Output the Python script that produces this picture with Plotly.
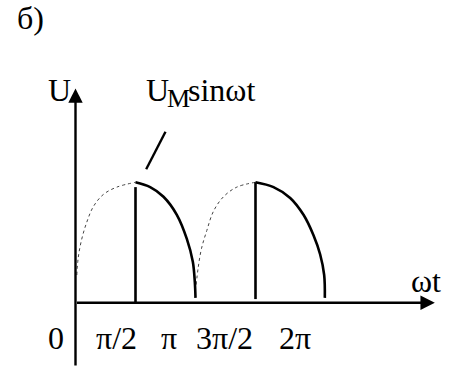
import plotly.graph_objects as go

# omega*t in degrees, U in units of U_M
arc1_dot_x = [2, 4, 9, 17, 27, 42, 62, 90]
arc1_dot_u = [0.23, 0.37, 0.52, 0.67, 0.80, 0.90, 0.96, 1.0]
arc1_x = [90, 112, 132, 152, 167, 176, 179, 180]
arc1_u = [1.0, 0.96, 0.88, 0.73, 0.53, 0.34, 0.17, 0.04]

arc2_dot_x = [181, 184, 189, 197, 207, 222, 242, 270]
arc2_dot_u = [0.15, 0.29, 0.45, 0.60, 0.76, 0.88, 0.96, 1.0]
arc2_x = [270, 297, 322, 342, 357, 367, 373, 374]
arc2_u = [1.0, 0.96, 0.87, 0.73, 0.56, 0.40, 0.23, 0.04]

# vertical edges (firing moments)
edge_x = [90, 270]
edge_u_low = [0.0, 0.03]
edge_u_high = [0.96, 1.0]

tick_labels = ["0", "π/2", "π", "3π/2", "2π"]
tick_label_x = [-29, 61.5, 140, 224, 329]

SERIF = "'Liberation Serif', 'Times New Roman', serif"
FONT = dict(family=SERIF, size=32, color="black")
FONT_SUB = dict(family=SERIF, size=26, color="black")

fig = go.Figure()

for xs, us in [(arc1_dot_x, arc1_dot_u), (arc2_dot_x, arc2_dot_u)]:
    fig.add_trace(go.Scatter(x=xs, y=us, mode="lines",
                             line=dict(color="#444444", width=1, dash="dot", shape="spline")))
for xs, us in [(arc1_x, arc1_u), (arc2_x, arc2_u)]:
    fig.add_trace(go.Scatter(x=xs, y=us, mode="lines",
                             line=dict(color="black", width=2.6, shape="spline")))
for xv, lo, hi in zip(edge_x, edge_u_low, edge_u_high):
    fig.add_trace(go.Scatter(x=[xv, xv], y=[lo, hi], mode="lines",
                             line=dict(color="black", width=2.6)))

# axes with arrows
fig.add_annotation(x=539, y=0, ax=0, ay=0, xref="x", yref="y", axref="x", ayref="y",
                   showarrow=True, arrowhead=2, arrowsize=1.2, arrowwidth=2.4,
                   arrowcolor="black", text="")
fig.add_annotation(x=0, y=1.78, ax=0, ay=-0.535, xref="x", yref="y", axref="x", ayref="y",
                   showarrow=True, arrowhead=2, arrowsize=1.2, arrowwidth=2.4,
                   arrowcolor="black", text="")

# leader line to the formula
fig.add_shape(type="line", x0=135, y0=1.42, x1=106, y1=1.108,
              line=dict(color="black", width=2.4))

for lab, xv in zip(tick_labels, tick_label_x):
    fig.add_annotation(x=xv, y=-0.293, text=lab, showarrow=False, font=FONT)

fig.add_annotation(x=525, y=0.18, text="ωt", showarrow=False, font=FONT)
fig.add_annotation(x=-24, y=1.767, text="U", showarrow=False, font=FONT)
# formula U_M sin ωt, subscript a bit larger than plotly's <sub>
fig.add_annotation(x=102.75, y=1.767, text="U", showarrow=False, font=FONT, xanchor="left")
fig.add_annotation(x=134.25, y=1.70, text="M", showarrow=False, font=FONT_SUB, xanchor="left")
fig.add_annotation(x=165.75, y=1.767, text="sinωt", showarrow=False, font=FONT, xanchor="left")
fig.add_annotation(x=-68.25, y=2.365, text="б)", showarrow=False, font=FONT)

fig.update_layout(
    width=453, height=370,
    margin=dict(l=0, r=0, t=0, b=0),
    paper_bgcolor="white", plot_bgcolor="white",
    showlegend=False,
    xaxis=dict(range=[-113.25, 566.25], visible=False, fixedrange=True),
    yaxis=dict(range=[-0.559, 2.514], visible=False, fixedrange=True),
)

# drop the default 8px body margin so the figure sits at the page corner
fig.write_html("out.html", config={"displayModeBar": False},
               post_script="document.body.style.margin='0';")
